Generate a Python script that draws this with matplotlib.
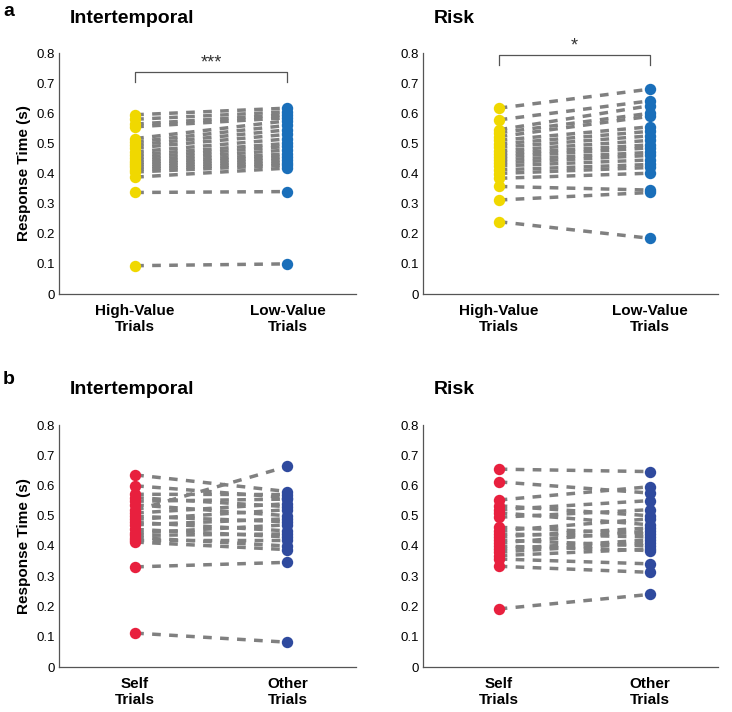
import matplotlib.pyplot as plt

plt.rcParams['font.family'] = ['Liberation Sans', 'DejaVu Sans']

# panel a: high-value vs low-value trials
high_it = [0.595, 0.580, 0.564, 0.555, 0.516, 0.505, 0.495, 0.485, 0.472, 0.462,
           0.452, 0.443, 0.435, 0.428, 0.420, 0.413, 0.405, 0.388, 0.337, 0.094]
low_it = [0.617, 0.605, 0.595, 0.585, 0.575, 0.560, 0.545, 0.530, 0.515, 0.500,
          0.490, 0.478, 0.465, 0.455, 0.445, 0.435, 0.428, 0.418, 0.340, 0.100]
high_risk = [0.617, 0.578, 0.545, 0.535, 0.522, 0.510, 0.498, 0.487, 0.475, 0.465,
             0.455, 0.445, 0.435, 0.425, 0.412, 0.400, 0.384, 0.357, 0.312, 0.240]
low_risk = [0.680, 0.641, 0.625, 0.600, 0.590, 0.555, 0.540, 0.525, 0.510, 0.495,
            0.485, 0.470, 0.460, 0.445, 0.430, 0.420, 0.401, 0.345, 0.337, 0.185]

# panel b: self vs other trials
self_it = [0.635, 0.599, 0.571, 0.560, 0.548, 0.536, 0.518, 0.509, 0.498, 0.488,
           0.478, 0.470, 0.455, 0.443, 0.435, 0.428, 0.420, 0.413, 0.331, 0.112]
other_it = [0.580, 0.560, 0.570, 0.530, 0.555, 0.500, 0.663, 0.540, 0.480, 0.520,
            0.450, 0.490, 0.430, 0.470, 0.440, 0.400, 0.420, 0.388, 0.346, 0.082]
self_risk = [0.654, 0.612, 0.552, 0.533, 0.520, 0.510, 0.495, 0.462, 0.450, 0.440,
             0.430, 0.420, 0.410, 0.400, 0.390, 0.380, 0.368, 0.357, 0.333, 0.192]
other_risk = [0.646, 0.575, 0.596, 0.500, 0.550, 0.470, 0.520, 0.440, 0.490, 0.430,
              0.460, 0.400, 0.450, 0.385, 0.420, 0.410, 0.390, 0.341, 0.313, 0.240]

labels_a = ['High-Value\nTrials', 'Low-Value\nTrials']
labels_b = ['Self\nTrials', 'Other\nTrials']
yticks = [0, 0.1, 0.2, 0.3, 0.4, 0.5, 0.6, 0.7, 0.8]
ytick_labels = ['0', '0.1', '0.2', '0.3', '0.4', '0.5', '0.6', '0.7', '0.8']

YELLOW = '#f0d800'
BLUE = '#1a6fba'
RED = '#e8203e'
NAVY = '#2f4a9e'
SPINE = '#555555'


def paired_panel(ax, left, right, c_left, c_right, labels, title, ylabel=True):
    for a, b in zip(left, right):
        ax.plot([1, 2], [a, b], color='#808080', lw=2.5, ls=(0, (2.5, 2.4)),
                zorder=1)
    ax.plot([1] * len(left), left, 'o', color=c_left, ms=8.2, mew=0, zorder=2)
    ax.plot([2] * len(right), right, 'o', color=c_right, ms=8.2, mew=0, zorder=2)
    ax.set_xlim(0.5, 2.45)
    ax.set_ylim(0, 0.8)
    ax.set_xticks([1, 2])
    ax.set_xticklabels(labels, fontsize=11, fontweight='bold')
    ax.set_yticks(yticks)
    ax.set_yticklabels(ytick_labels, fontsize=9.5)
    ax.tick_params(length=0, pad=3)
    ax.tick_params(axis='x', pad=7)
    for s in ['top', 'right']:
        ax.spines[s].set_visible(False)
    for s in ['left', 'bottom']:
        ax.spines[s].set_color(SPINE)
        ax.spines[s].set_linewidth(0.9)
    if ylabel:
        ax.set_ylabel('Response Time (s)', fontsize=11, fontweight='bold',
                      labelpad=4)
    ax.text(0.035, 1.145, title, transform=ax.transAxes, fontsize=14,
            fontweight='bold', ha='left', va='center')


def bracket(ax, y_top, y_bot, text):
    ax.plot([1, 1, 2, 2], [y_bot, y_top, y_top, y_bot], color=SPINE, lw=0.9,
            clip_on=False)
    ax.text(1.5, y_top, text, ha='center', va='bottom', fontsize=13,
            color='#333333', clip_on=False)


fig = plt.figure(figsize=(7.32, 7.12), dpi=100)
W, H = 732, 712


def add_axes(x0, x1, y0, y1):
    return fig.add_axes([x0 / W, 1 - y1 / H, (x1 - x0) / W, (y1 - y0) / H])


ax1 = add_axes(59, 356, 53, 294)
ax2 = add_axes(423, 718, 53, 294)
ax3 = add_axes(59, 356, 425, 667)
ax4 = add_axes(423, 718, 425, 667)

paired_panel(ax1, high_it, low_it, YELLOW, BLUE, labels_a, 'Intertemporal')
paired_panel(ax2, high_risk, low_risk, YELLOW, BLUE, labels_a, 'Risk', ylabel=False)
paired_panel(ax3, self_it, other_it, RED, NAVY, labels_b, 'Intertemporal')
paired_panel(ax4, self_risk, other_risk, RED, NAVY, labels_b, 'Risk', ylabel=False)

bracket(ax1, 0.737, 0.704, '***')
bracket(ax2, 0.794, 0.761, '*')

fig.text(3 / W, 1 - 12 / H, 'a', fontsize=14, fontweight='bold', va='center')
fig.text(3 / W, 1 - 380 / H, 'b', fontsize=14, fontweight='bold', va='center')

fig.savefig('out.png', dpi=100)
